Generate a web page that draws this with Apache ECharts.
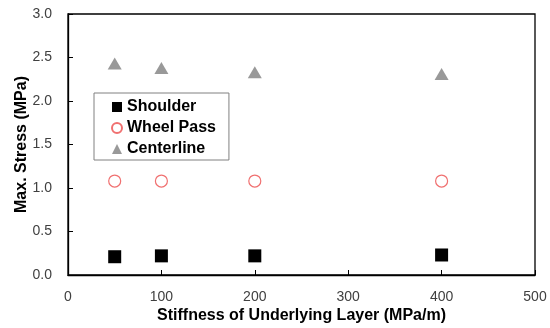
<!DOCTYPE html>
<html>
<head>
<meta charset="utf-8">
<script src="https://cdn.jsdelivr.net/npm/echarts@6/dist/echarts.min.js"></script>
<style>
  html, body { margin: 0; padding: 0; background: #fff; }
  #chart { width: 550px; height: 328px; }
</style>
</head>
<body>
<div id="chart"></div>
<script>
// Stiffness of underlying layer (MPa/m)
const stiffness = [50, 100, 200, 400];
// Maximum stress (MPa) at each location
const shoulder = [0.21, 0.22, 0.22, 0.23];
const wheelPass = [1.08, 1.08, 1.08, 1.08];
const centerline = [2.43, 2.38, 2.33, 2.31];

const pairs = (xs, ys) => xs.map((x, i) => [x, ys[i]]);
const font = '"Liberation Sans", Arial, sans-serif';

const chart = echarts.init(document.getElementById('chart'));
chart.setOption({
  animation: false,
  grid: {
    left: 68, right: 15, top: 14, bottom: 53,
    outerBoundsMode: 'none',
    show: true, borderColor: '#000', borderWidth: 1.3
  },
  legend: {
    orient: 'vertical',
    left: 94, top: 93,
    padding: [5, 13, 2, 17],
    itemGap: 3,
    itemWidth: 10, itemHeight: 10,
    borderColor: '#808080', borderWidth: 1,
    backgroundColor: '#fff',
    textStyle: { fontFamily: font, fontWeight: 'bold', fontSize: 16, color: '#000', lineHeight: 18 },
    data: ['Shoulder', 'Wheel Pass', 'Centerline']
  },
  xAxis: {
    type: 'value', min: 0, max: 500, interval: 100,
    name: 'Stiffness of Underlying Layer (MPa/m)',
    nameLocation: 'middle', nameGap: 33, nameMoveOverlap: false,
    nameTextStyle: { fontFamily: font, fontWeight: 'bold', fontSize: 16, color: '#000' },
    axisLine: { show: true, lineStyle: { color: '#000', width: 1.3 } },
    axisTick: { show: true, inside: true, length: 5, lineStyle: { color: '#000' } },
    axisLabel: { fontFamily: font, fontSize: 14, color: '#404040', margin: 15 },
    splitLine: { show: false }
  },
  yAxis: {
    type: 'value', min: 0, max: 3, interval: 0.5,
    name: 'Max. Stress (MPa)',
    nameLocation: 'middle', nameGap: 38, nameRotate: 90, nameMoveOverlap: false,
    nameTextStyle: { fontFamily: font, fontWeight: 'bold', fontSize: 16, color: '#000' },
    axisLine: { show: true, lineStyle: { color: '#000', width: 1.3 } },
    axisTick: { show: true, inside: true, length: 5, lineStyle: { color: '#000' } },
    axisLabel: { fontFamily: font, fontSize: 14, color: '#404040', margin: 16, formatter: v => v.toFixed(1) },
    splitLine: { show: false }
  },
  series: [
    {
      name: 'Shoulder', type: 'scatter', symbol: 'rect', symbolSize: 13,
      itemStyle: { color: '#000', opacity: 1 },
      data: pairs(stiffness, shoulder)
    },
    {
      name: 'Wheel Pass', type: 'scatter', symbol: 'circle', symbolSize: 12,
      itemStyle: { color: '#fff', borderColor: '#f07070', borderWidth: 1.2, opacity: 1 },
      data: pairs(stiffness, wheelPass)
    },
    {
      name: 'Centerline', type: 'scatter', symbol: 'triangle', symbolSize: [14, 12],
      itemStyle: { color: '#999', opacity: 1 },
      data: pairs(stiffness, centerline)
    }
  ]
});
</script>
</body>
</html>
